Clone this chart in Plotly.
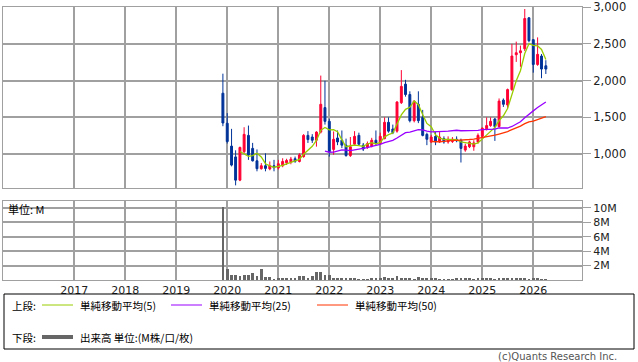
import plotly.graph_objects as go
import pandas as pd

# ---------------- data (monthly, Dec 2019 - Apr 2026) ----------------
months = pd.date_range("2019-12-01", "2026-04-01", freq="MS")

open_ = [1827, 1418, 1107, 960, 644, 1031, 1253, 1076, 907, 800, 840, 796, 840,
         809, 840, 880, 890, 935, 898, 964, 1253, 1231, 1187, 1298, 1631,
         1444, 1062, 1218, 1187, 1120, 978, 1133, 1253, 1120, 1089, 1107, 1187,
         1142, 1209, 1431, 1340, 1311, 1698, 1951, 1809, 1453, 1676, 1498, 1267,
         1164, 1240, 1164, 1209, 1164, 1169, 1200, 1187, 1053, 1098, 1098, 1164,
         1240, 1342, 1387, 1476, 1373, 1733, 1667, 1876, 2351, 2378, 2431, 2853,
         2556, 2218, 2333, 2200]
high = [2093, 1556, 1342, 1050, 1100, 1364, 1387, 1151, 1062, 876, 1009, 898, 920,
        920, 942, 935, 960, 965, 1010, 1270, 1311, 1270, 1310, 2067, 1996,
        1480, 1307, 1320, 1320, 1209, 1231, 1311, 1290, 1150, 1170, 1220, 1320,
        1290, 1498, 1498, 1400, 1720, 2142, 2009, 1853, 1729, 1853, 1600, 1290,
        1260, 1298, 1298, 1240, 1240, 1230, 1240, 1209, 1140, 1180, 1187, 1280,
        1360, 1498, 1498, 1490, 1756, 1756, 1890, 2498, 2529, 2476, 2973, 2862,
        2560, 2587, 2360, 2276]
low = [1378, 1142, 831, 573, 630, 1009, 920, 898, 764, 787, 764, 778, 764,
       787, 820, 850, 860, 880, 885, 950, 1150, 1150, 1100, 1280, 1400,
       964, 990, 1120, 1080, 964, 960, 1120, 1110, 1040, 1070, 1090, 1120,
       1130, 1200, 1290, 1270, 1290, 1680, 1780, 1430, 1430, 1420, 1240, 1120,
       1150, 1120, 1150, 1140, 1140, 1150, 1160, 884, 1030, 1080, 1044, 1140,
       1220, 1320, 1370, 1178, 1360, 1640, 1620, 1860, 2253, 2187, 2400, 2520,
       2107, 2200, 2031, 2089]
close = [1422, 1169, 849, 644, 1089, 1267, 987, 907, 800, 840, 804, 840, 813,
         867, 898, 912, 930, 900, 987, 1253, 1196, 1187, 1298, 1676, 1444,
         1031, 1200, 1164, 1120, 978, 1098, 1240, 1133, 1067, 1142, 1187, 1151,
         1240, 1431, 1311, 1290, 1707, 1920, 1809, 1453, 1720, 1453, 1253, 1200,
         1231, 1164, 1231, 1164, 1200, 1200, 1180, 1076, 1107, 1164, 1151, 1253,
         1351, 1387, 1444, 1373, 1720, 1676, 1876, 2333, 2378, 2404, 2844, 2542,
         2218, 2356, 2156, 2156]
volume = [10.2, 1.54, 0.70, 0.70, 0.61, 0.65, 0.65, 0.98, 0.61, 1.54, 0.47, 0.45, 0.10,
          0.19, 0.14, 0.14, 0.23, 0.19, 0.51, 0.51, 0.19, 0.51, 1.12, 1.12, 0.70,
          0.75, 0.28, 0.19, 0.19, 0.19, 0.28, 0.23, 0.05, 0.05, 0.09, 0.23, 0.23,
          0.20, 0.42, 0.20, 0.28, 0.55, 0.25, 0.30, 0.20, 0.10, 0.42, 0.33, 0.20,
          0.15, 0.15, 0.05, 0.05, 0.05, 0.05, 0.28, 0.20, 0.20, 0.20, 0.05, 0.20,
          0.20, 0.20, 0.20, 0.05, 0.20, 0.28, 0.20, 0.20, 0.28, 0.23, 0.20, 0.05,
          0.33, 0.23, 0.10, 0.05]

year_ticks = [str(y) for y in range(2017, 2027)]
price_ticks = [1000, 1500, 2000, 2500, 3000]
vol_ticks = [2, 4, 6, 8, 10]

ma_periods = [5, 25, 50]
ma_colors = ["#99CC00", "#9900FF", "#FF3300"]
ma_names = ["単純移動平均(5)", "単純移動平均(25)", "単純移動平均(50)"]

# ---------------- geometry helpers ----------------
W, H = 638, 362
L, R, T, B = 3, 582, 7, 280


def xp(px):
    return (px - L) / (R - L)


def yp(py):
    return (B - py) / (B - T)


RED = "#FF0033"
BLUE = "#003399"
GRID = "#A0A0A0"
JP = "Noto Sans CJK JP"
NUM = "DejaVu Sans"

close_s = pd.Series(close, index=months)

fig = go.Figure()
fig.add_trace(go.Candlestick(
    x=months, open=open_, high=high, low=low, close=close,
    increasing=dict(line=dict(color=RED, width=1), fillcolor=RED),
    decreasing=dict(line=dict(color=BLUE, width=1), fillcolor=BLUE),
    whiskerwidth=0, xaxis="x", yaxis="y", showlegend=False, hoverinfo="skip"))

for p, c in zip(ma_periods, ma_colors):
    ma = close_s.rolling(p).mean()
    fig.add_trace(go.Scatter(x=months, y=ma.values, mode="lines",
                             line=dict(color=c, width=1.3),
                             xaxis="x", yaxis="y", showlegend=False,
                             hoverinfo="skip"))

fig.add_trace(go.Bar(x=months, y=volume, marker=dict(color="#666666", line=dict(width=0)),
                     width=20 * 86400000, xaxis="x2", yaxis="y2",
                     showlegend=False, hoverinfo="skip"))

xr = ["2015-08-09", "2026-12-16"]
year_dates = [f"{y}-01-01" for y in year_ticks]

common_x = dict(range=xr, type="date", tickvals=year_dates, showgrid=True,
                gridcolor=GRID, gridwidth=2, showline=True, linecolor=GRID,
                linewidth=1, mirror=True, zeroline=False, ticks="",
                fixedrange=True, automargin=False)

fig.update_layout(
    width=W, height=H,
    margin=dict(l=L, r=W - R, t=T, b=H - B, pad=0, autoexpand=False),
    paper_bgcolor="white", plot_bgcolor="white",
    bargap=0, hovermode=False,
    xaxis=dict(domain=[0, 1], anchor="y", showticklabels=False,
               rangeslider=dict(visible=False), **common_x),
    xaxis2=dict(domain=[0, 1], anchor="y2", matches="x", showticklabels=True,
                ticktext=year_ticks,
                tickfont=dict(family=NUM, size=11, color="#222"), **common_x),
    yaxis=dict(domain=[yp(188), 1], range=[537, 3000.5], side="right",
               tickvals=price_ticks, ticktext=[f"{v:,}" for v in price_ticks],
               ticks="outside", ticklen=8, tickcolor=GRID, tickwidth=1,
               ticklabeloverflow="allow", automargin=False,
               showgrid=True, gridcolor=GRID, gridwidth=2,
               showline=True, linecolor=GRID, mirror=True, zeroline=False,
               tickfont=dict(family=NUM, size=11.5, color="#222"), fixedrange=True),
    yaxis2=dict(domain=[0, yp(201)], range=[0, 10.97], side="right",
                tickvals=vol_ticks, ticktext=[f"{v}M" for v in vol_ticks],
                ticks="outside", ticklen=8, tickcolor=GRID, tickwidth=1,
                automargin=False,
                showgrid=True, gridcolor=GRID, gridwidth=2,
                showline=True, linecolor=GRID, mirror=True, zeroline=False,
                tickfont=dict(family=NUM, size=11, color="#222"), fixedrange=True),
)

ann = []
shapes = []

# unit label in volume panel
ann.append(dict(x=xp(6), y=yp(209), xref="paper", yref="paper", text="単位: M",
                showarrow=False, xanchor="left", yanchor="middle",
                font=dict(family=JP, size=11, color="#000")))

# legend box
shapes.append(dict(type="rect", xref="paper", yref="paper",
                   x0=xp(4), x1=xp(634), y0=yp(294), y1=yp(349),
                   line=dict(color="#000", width=1), fillcolor="rgba(0,0,0,0)"))

row1, row2 = 305, 337
ann.append(dict(x=xp(10), y=yp(row1), xref="paper", yref="paper", text="上段:",
                showarrow=False, xanchor="left", yanchor="middle",
                font=dict(family=JP, size=10.5, color="#000")))
seg_x = [(42, 73), (171, 202), (317, 348)]
for (a, b), c, name in zip(seg_x, ma_colors, ma_names):
    shapes.append(dict(type="line", xref="paper", yref="paper",
                       x0=xp(a), x1=xp(b), y0=yp(row1), y1=yp(row1),
                       line=dict(color=c, width=1)))
    ann.append(dict(x=xp(b + 5), y=yp(row1), xref="paper", yref="paper", text=name,
                    showarrow=False, xanchor="left", yanchor="middle",
                    font=dict(family=JP, size=10.5, color="#000")))

ann.append(dict(x=xp(10), y=yp(row2), xref="paper", yref="paper", text="下段:",
                showarrow=False, xanchor="left", yanchor="middle",
                font=dict(family=JP, size=10.5, color="#000")))
shapes.append(dict(type="line", xref="paper", yref="paper",
                   x0=xp(42), x1=xp(73), y0=yp(row2), y1=yp(row2),
                   line=dict(color="#666666", width=4)))
ann.append(dict(x=xp(78), y=yp(row2), xref="paper", yref="paper",
                text="出来高 単位:(M株/口/枚)",
                showarrow=False, xanchor="left", yanchor="middle",
                font=dict(family=JP, size=10.5, color="#000")))

ann.append(dict(x=xp(619), y=yp(356), xref="paper", yref="paper",
                text="(c)Quants Research Inc.",
                showarrow=False, xanchor="right", yanchor="middle",
                font=dict(family="DejaVu Sans", size=10, color="#555")))

fig.update_layout(annotations=ann, shapes=shapes)

fig.write_html("out.html", config={"displayModeBar": False})
